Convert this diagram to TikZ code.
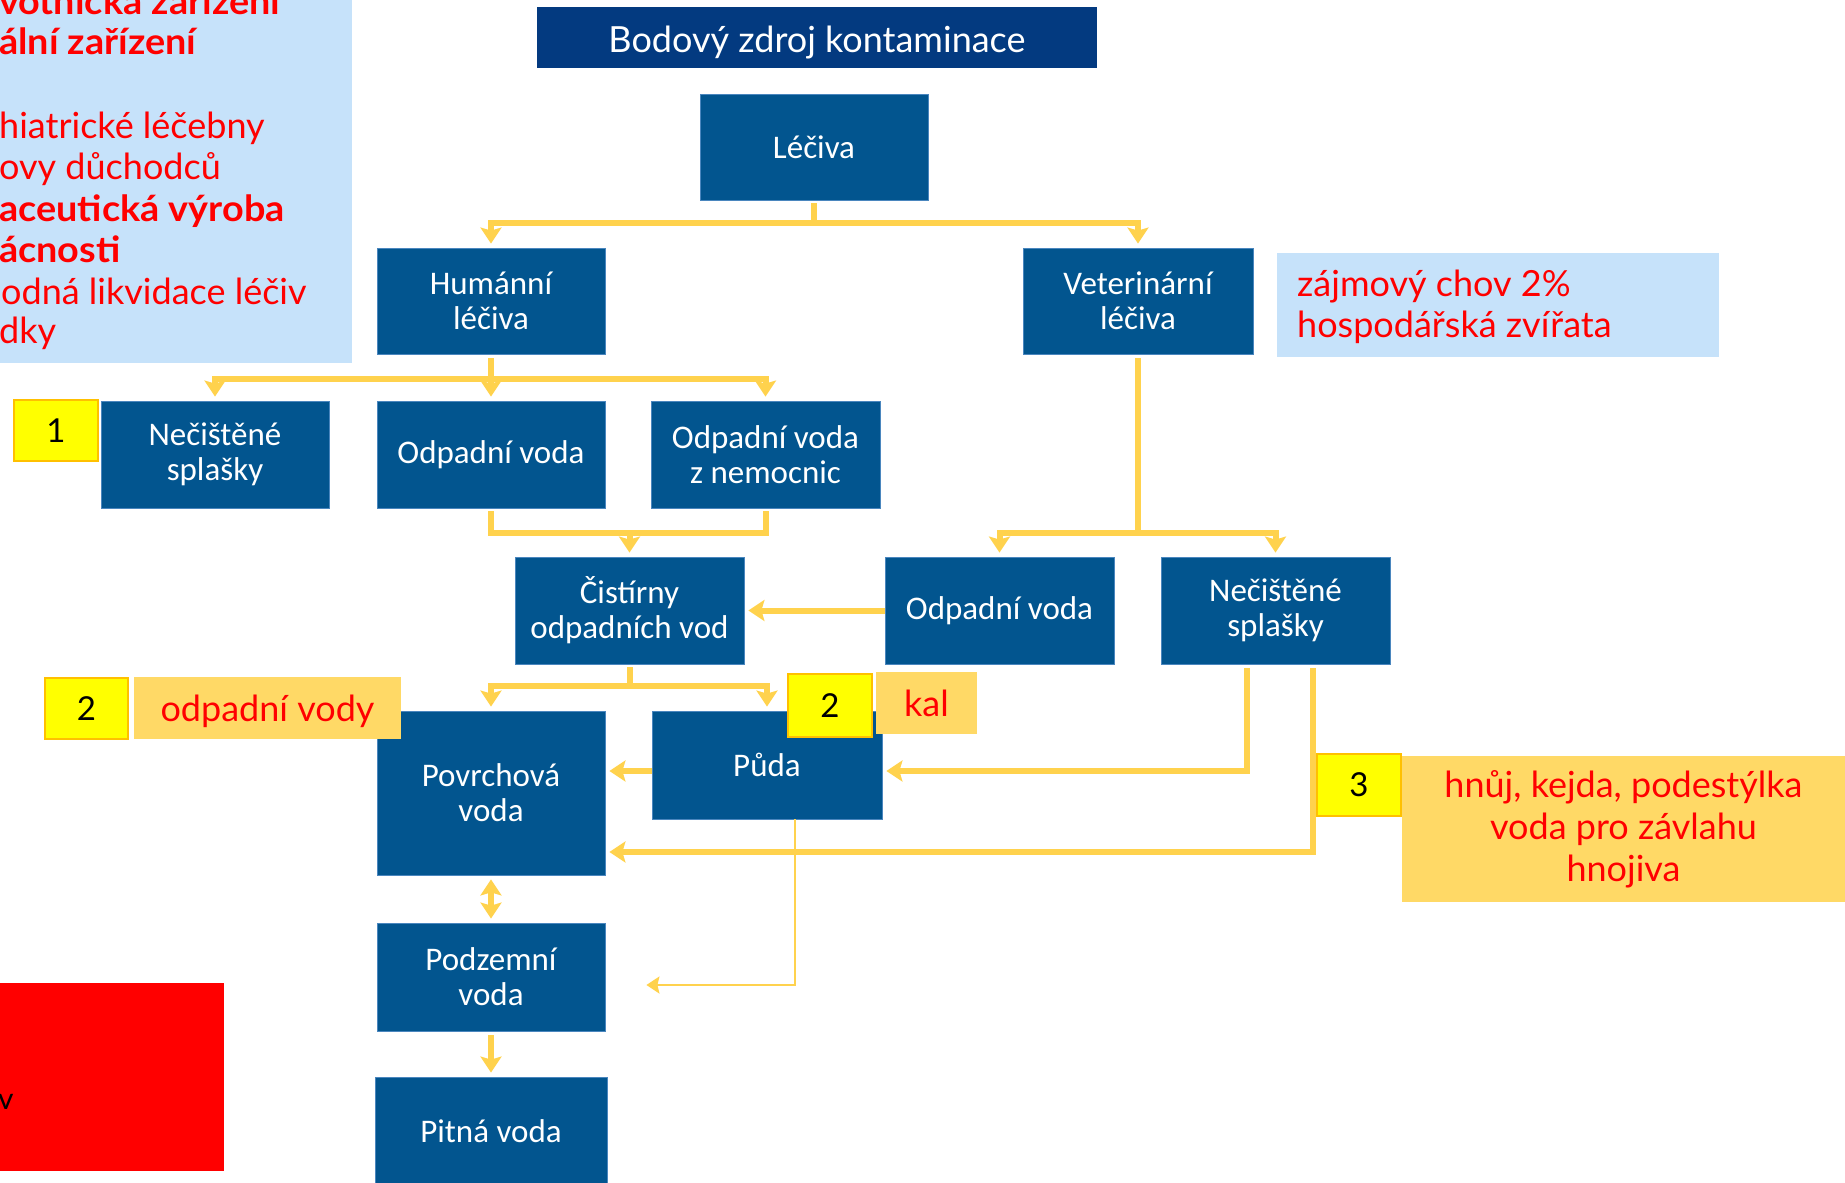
\documentclass[tikz,border=0pt]{standalone}
\usepackage{fontspec}
\usetikzlibrary{arrows.meta,calc}
\newfontfamily\calib{Carlito}
\newfontfamily\avf{Lato}
\newfontfamily\avfb{Lato}[FakeStretch=1.05]
\definecolor{boxblue}{HTML}{02558F}
\definecolor{boxedge}{HTML}{4A86BE}
\definecolor{titleblue}{HTML}{033A80}
\definecolor{gold}{HTML}{FFD24D}
\definecolor{lightblue}{HTML}{C6E2FA}
\definecolor{labelorange}{HTML}{FFD966}
\definecolor{markyellow}{HTML}{FFFF00}
\definecolor{markedge}{HTML}{FFC000}
\definecolor{pured}{HTML}{FF0000}
\tikzset{
  bbox/.style={fill=boxblue, draw=boxedge, line width=0.8pt, text=white,
    font=\calib\fontsize{33}{35}\selectfont, align=center, inner sep=0pt},
  plainline/.style={draw=gold, line width=6pt},
  conn/.style={draw=gold, line width=6pt, -{Stealth[length=16pt,width=21pt,inset=3pt]}, shorten >=4pt},
  bothconn/.style={draw=gold, line width=6pt, {Stealth[length=16pt,width=21pt,inset=3pt]}-{Stealth[length=16pt,width=21pt,inset=3pt]}, shorten >=4pt, shorten <=4pt},
  thinconn/.style={draw=gold, line width=2pt, -{Stealth[length=13pt,width=17pt,inset=2pt]}},
  redtxt/.style={text=pured, font=\avf\fontsize{36}{41}\selectfont, inner sep=0pt, anchor=base west},
  redbold/.style={text=pured, font=\avfb\bfseries\fontsize{36}{41}\selectfont, inner sep=0pt, anchor=base west},
  numbox/.style={fill=markyellow, draw=markedge, line width=2pt, inner sep=0pt,
    font=\avf\fontsize{33}{38}\selectfont},
  labbox/.style={fill=labelorange, inner sep=0pt, text=pured, align=center,
    font=\avf\fontsize{36}{42}\selectfont},
}
\begin{document}
\begin{tikzpicture}[x=1pt,y=-1pt]
\useasboundingbox (0,0) rectangle (1845,1183);
\clip (0,0) rectangle (1845,1183);

% left light blue panel
\node[fill=lightblue, inner sep=0pt, minimum width=362pt, minimum height=373pt] (lbox) at (171,176.5) {};
\node[redbold] (t1) at (-1,14) {votnická zařízení};
\node[redbold] (t2) at (-1,54) {ální zařízení};
\node[redtxt]  (t3) at (-1,138) {hiatrické léčebny};
\node[redtxt]  (t4) at (-1,179) {ovy důchodců};
\node[redbold] (t5) at (-1,221) {aceutická výroba};
\node[redbold] (t6) at (-1,262) {ácnosti};
\node[redtxt]  (t7) at (1,304) {odná likvidace léčiv};
\node[redtxt]  (t8) at (-1,343) {dky};

% title
\node[fill=titleblue, text=white, inner sep=0pt, minimum width=560pt, minimum height=61pt,
  font=\avf\fontsize{36}{40}\selectfont] (title) at (817,37.5) {\raisebox{-15pt}[0pt][0pt]{Bodový zdroj kontaminace}};

% blue boxes
\node[bbox, minimum width=228pt, minimum height=106pt] (lec) at (814,147) {Léčiva};
\node[bbox, minimum width=228pt, minimum height=106pt] (hum) at (491,301) {Humánní\\léčiva};
\node[bbox, minimum width=230pt, minimum height=106pt] (vet) at (1138,301) {Veterinární\\léčiva};
\node[bbox, minimum width=228pt, minimum height=107pt] (nec1) at (215,454.5) {Nečištěné\\splašky};
\node[bbox, minimum width=228pt, minimum height=107pt] (odp1) at (491,454.5) {Odpadní voda};
\node[bbox, minimum width=229pt, minimum height=107pt] (nem) at (765.5,454.5) {Odpadní voda\\z nemocnic};
\node[bbox, minimum width=229pt, minimum height=107pt] (cov) at (629.5,610.5) {Čistírny\\odpadních vod};
\node[bbox, minimum width=229pt, minimum height=107pt] (odp2) at (999.5,610.5) {Odpadní voda};
\node[bbox, minimum width=229pt, minimum height=107pt] (nec2) at (1275.5,610.5) {Nečištěné\\splašky};
\node[bbox, minimum width=228pt, minimum height=164pt] (pov) at (491,793) {Povrchová\\voda};
\node[bbox, minimum width=230pt, minimum height=108pt] (puda) at (767,765) {Půda};
\node[bbox, minimum width=228pt, minimum height=108pt] (pod) at (491,977) {Podzemní\\voda};
\node[bbox, minimum width=232pt, minimum height=109pt] (pit) at (491,1131.5) {Pitná voda};

% connectors
\coordinate (c1) at ($(lec.south)+(0,23)$);
\draw[plainline, shorten <=3pt] (lec.south) -- (c1);
\draw[conn] (c1) -| (hum.north);
\draw[conn] (c1) -| (vet.north);

\coordinate (c2) at ($(hum.south)+(0,25)$);
\draw[plainline, shorten <=4pt] (hum.south) -- (c2);
\draw[conn] (c2) -| (nec1.north);
\draw[conn] (c2) -- (odp1.north);
\draw[conn] (c2) -| (nem.north);

\coordinate (c3) at ($(cov.north)+(0,-24)$);
\draw[plainline, shorten <=3pt] (odp1.south) |- (c3);
\draw[plainline, shorten <=3pt] (nem.south) |- (c3);
\draw[conn] (c3) -- (cov.north);

\coordinate (c4) at ($(vet.south)+(0,179)$);
\draw[plainline, shorten <=4pt] (vet.south) -- (c4);
\draw[conn] (c4) -| (odp2.north);
\draw[conn] (c4) -| (nec2.north);

\draw[conn] (odp2.west) -- (cov.east);

\coordinate (c6) at ($(cov.south)+(0,22)$);
\draw[plainline, shorten <=3pt] (cov.south) -- (c6);
\draw[conn] (c6) -| (pov.north);
\draw[conn] (c6) -| (puda.north);

\coordinate (p7) at ($(puda.west)+(0,6)$);
\draw[conn] (p7) -- (p7 -| pov.east);
\draw[conn, shorten <=4pt] ($(nec2.south)+(-29,0)$) |- ($(puda.east)+(0,6)$);
\draw[conn, shorten <=4pt] ($(nec2.south)+(37,0)$) |- ($(pov.east)+(0,59)$);
\draw[bothconn] (pov.south) -- (pod.north);
\draw[conn, shorten <=4pt] (pod.south) -- (pit.north);
\draw[thinconn] ($(puda.south)+(28,0)$) |- ($(pod.east)+(41,8)$);

% annotations
\node[fill=lightblue, inner sep=0pt, minimum width=442pt, minimum height=104pt] (zbox) at (1498,305) {};
\node[redtxt] (z1) at (1297,296) {zájmový chov 2\%};
\node[redtxt] (z2) at (1297,337) {hospodářská zvířata};

\node[numbox, minimum width=84pt, minimum height=61pt] (n1) at (56,430.5) {1};
\node[numbox, minimum width=83pt, minimum height=61pt] (n2a) at (86.5,708.5) {2};
\node[labbox, minimum width=267pt, minimum height=62pt] (lab2a) at (267.5,708) {\raisebox{-13.5pt}[0pt][0pt]{odpadní vody}};
\node[numbox, minimum width=84pt, minimum height=63pt] (n2b) at (830,705.5) {2};
\node[labbox, minimum width=101pt, minimum height=62pt] (labkal) at (926.5,703) {kal};
\node[numbox, minimum width=84pt, minimum height=62pt] (n3) at (1359,785) {3};
\node[labbox, minimum width=444pt, minimum height=146pt] (lab3) at (1623.5,829)
  {hnůj, kejda, podestýlka\\voda pro závlahu\\hnojiva};

% red box bottom left
\node[fill=pured, inner sep=0pt, minimum width=234pt, minimum height=188pt] (redbox) at (107,1077) {};
\node[anchor=base west, inner sep=0pt, font=\avf\fontsize{30}{36}\selectfont] (rv) at (-2,1109) {v};
\end{tikzpicture}
\end{document}
